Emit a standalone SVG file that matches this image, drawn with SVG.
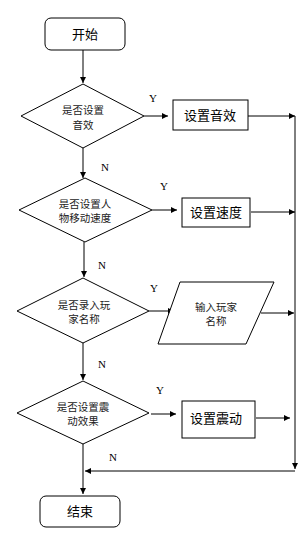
<svg xmlns="http://www.w3.org/2000/svg" width="308" height="535" viewBox="0 0 308 535">
<style>
.s{fill:#fff;stroke:#000;stroke-width:1}
.t{font-family:"Noto Sans CJK SC","Noto Sans",sans-serif;font-size:13px;fill:#000;text-anchor:middle}
.d{font-family:"Noto Sans CJK SC","Noto Sans",sans-serif;font-size:10.5px;fill:#222;text-anchor:middle}
.l{font-family:"Liberation Serif",serif;font-size:11px;fill:#000}
.c{fill:none;stroke:#000;stroke-width:1}
</style>
<defs>
<marker id="a" viewBox="0 0 6 6" refX="6" refY="3" markerWidth="6" markerHeight="6" orient="auto" markerUnits="userSpaceOnUse">
<path d="M0,0 L6,3 L0,6 z" fill="#000"/>
</marker>
</defs>
<rect width="308" height="535" fill="#fff"/>
<g id="connectors">
<path class="c" d="M83,50 V83" marker-end="url(#a)"/>
<path class="c" d="M144,116 H168" marker-end="url(#a)"/>
<path class="c" d="M248,116 H295" marker-end="url(#a)"/>
<path class="c" d="M83,148 V178" marker-end="url(#a)"/>
<path class="c" d="M152,210 H177" marker-end="url(#a)"/>
<path class="c" d="M251,212 H295" marker-end="url(#a)"/>
<path class="c" d="M84,242 V277" marker-end="url(#a)"/>
<path class="c" d="M149,311 H174" marker-end="url(#a)"/>
<path class="c" d="M261,313 H294" marker-end="url(#a)"/>
<path class="c" d="M83,343 V380" marker-end="url(#a)"/>
<path class="c" d="M151,414 H176" marker-end="url(#a)"/>
<path class="c" d="M256,418 H290" marker-end="url(#a)"/>
<path class="c" d="M295,116 V469" marker-end="url(#a)"/>
<path class="c" d="M295,471 H85" marker-end="url(#a)"/>
<path class="c" d="M83,444 V494" marker-end="url(#a)"/>
<text class="l" x="149" y="102">Y</text>
<text class="l" x="101" y="171">N</text>
<text class="l" x="160" y="190">Y</text>
<text class="l" x="98" y="269">N</text>
<text class="l" x="150" y="292">Y</text>
<text class="l" x="98" y="368">N</text>
<text class="l" x="156" y="394">Y</text>
<text class="l" x="109" y="461">N</text>
</g>
<g id="start">
<rect class="s" x="45" y="18" width="80" height="32" rx="6"/>
<text class="t" x="85" y="39">开始</text>
</g>
<g id="q1">
<polygon class="s" points="83,84 144,116 83,148 21,116"/>
<text class="d" x="83" y="114">是否设置</text>
<text class="d" x="83" y="129">音效</text>
</g>
<g id="sound">
<rect class="s" x="173" y="100" width="75" height="30"/>
<text class="t" x="210" y="120">设置音效</text>
</g>
<g id="q2">
<polygon class="s" points="85,178 152,210 85,242 19,210"/>
<text class="d" x="85" y="208">是否设置人</text>
<text class="d" x="85" y="222">物移动速度</text>
</g>
<g id="speed">
<rect class="s" x="182" y="198" width="68" height="29"/>
<text class="t" x="216" y="217">设置速度</text>
</g>
<g id="q3">
<polygon class="s" points="83,278 149,311 83,343 17,311"/>
<text class="d" x="84" y="309">是否录入玩</text>
<text class="d" x="84" y="323">家名称</text>
</g>
<g id="name">
<polygon class="s" points="180,282 274,282 246,344 158,344"/>
<text class="d" x="216" y="311">输入玩家</text>
<text class="d" x="216" y="325">名称</text>
</g>
<g id="q4">
<polygon class="s" points="83,381 149,413 83,444 17,413"/>
<text class="d" x="83" y="411">是否设置震</text>
<text class="d" x="83" y="425">动效果</text>
</g>
<g id="vibe">
<rect class="s" x="182" y="401" width="73" height="37"/>
<text class="t" x="216" y="423">设置震动</text>
</g>
<g id="end">
<rect class="s" x="40" y="496" width="80" height="31" rx="6"/>
<text class="t" x="80" y="516">结束</text>
</g>
</svg>
